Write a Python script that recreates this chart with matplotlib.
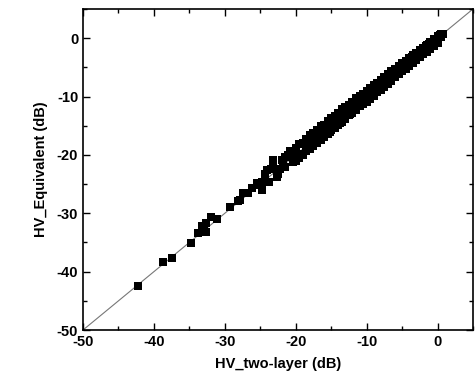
import matplotlib.pyplot as plt
from matplotlib.ticker import MultipleLocator

# HV two-layer vs. HV equivalent (dB)
hv_two_layer = [
    -42.2, -38.7, -37.4, -34.8, -33.8, -33.2, -33.0, -32.6, -32.7, -31.9, -31.1, -29.3, -28.1,
    -27.9, -27.4, -26.2, -24.8, -24.8, -24.4, -23.2, -22.5, -23.7, -22.7, -21.1, -20.4, -19.9,
    -19.0, -17.8, -18.0, -16.4, -16.2, -23.2, -20.8, -21.8, -21.5, -19.5, -18.5,
    -25.5, -24.0, -23.5, -22.0, -21.5, -26.8, -25.0, -22.2, -20.2, -20.6,
    -17.5, -17.0, -16.8, -15.9, -15.5, -15.2, -14.8, -14.5, -14.0, -13.8, -13.3, -13.0,
    -12.7, -12.3, -12.0, -11.7, -11.3, -11.0, -10.7, -10.4, -15.0, -13.5, -12.5, -11.5,
    -10.5, -16.5, -14.2, -16.1, -14.7, -12.4,
    -20.0, -19.5, -19.0, -18.5, -18.0, -17.5, -17.0, -16.5, -16.0, -15.5,
    -15.0, -14.5, -14.0, -13.5, -13.0, -12.5, -12.0, -11.5, -11.0, -10.5,
    -20.0, -19.5, -19.0, -18.5, -18.0, -17.5, -17.0, -16.5, -16.0, -15.5,
    -15.0, -14.5, -14.0, -13.5, -13.0, -12.5, -12.0, -11.5, -11.0, -10.5,
    -10.0, -9.6, -9.2, -8.8, -8.4, -8.0, -7.6, -7.2, -6.8, -6.4, -6.0, -5.6, -5.2, -4.8,
    -4.4, -4.0, -3.6, -3.2, -2.8, -2.4, -2.0, -1.6, -1.2, -0.8, -0.4, 0.0, 0.4, 0.8,
    -10.0, -9.6, -9.2, -8.8, -8.4, -8.0, -7.6, -7.2, -6.8, -6.4, -6.0, -5.6, -5.2, -4.8,
    -4.4, -4.0, -3.6, -3.2, -2.8, -2.4, -2.0, -1.6, -1.2, -0.8, -0.4, 0.0, 0.4, 0.8,
    -10.0, -9.5, -9.0, -8.5, -8.0, -7.5, -7.0, -6.5, -6.0, -5.5, -5.0,
    -4.5, -4.0, -3.5, -3.0, -2.5, -2.0, -1.5, -1.0, -0.5, 0.0, 0.5,
    -10.0, -9.5, -9.0, -8.5, -8.0, -7.5, -7.0, -6.5, -6.0, -5.5, -5.0,
    -4.5, -4.0, -3.5, -3.0, -2.5, -2.0, -1.5, -1.0, -0.5, 0.0, 0.5,
]
hv_equivalent = [
    -42.4, -38.4, -37.7, -35.1, -33.4, -32.1, -32.8, -33.2, -31.7, -30.6, -30.9, -29.0, -27.9,
    -27.7, -26.6, -25.7, -26.0, -24.6, -23.2, -22.0, -23.2, -24.6, -23.7, -20.0, -21.2, -19.5,
    -18.0, -17.2, -18.9, -15.2, -16.6, -20.9, -19.3, -21.0, -22.0, -19.9, -18.3,
    -24.8, -22.6, -22.5, -20.8, -20.3, -26.5, -25.2, -22.4, -19.3, -20.0,
    -17.9, -16.2, -17.3, -15.6, -14.6, -16.0, -14.2, -15.3, -13.4, -14.6, -12.9, -13.8,
    -12.2, -13.0, -11.5, -12.3, -10.9, -11.6, -10.2, -11.0, -15.0, -13.6, -12.6, -11.4,
    -10.6, -15.9, -14.0, -15.8, -13.8, -12.0,
    -18.8, -18.2, -17.9, -17.3, -16.6, -16.3, -15.8, -15.1, -14.8, -14.2,
    -13.7, -13.3, -12.8, -12.2, -11.8, -11.4, -10.9, -10.3, -9.9, -9.5,
    -21.0, -20.6, -20.1, -19.4, -19.0, -18.5, -17.9, -17.4, -16.9, -16.4,
    -15.8, -15.4, -14.9, -14.3, -13.8, -13.2, -12.8, -12.3, -11.7, -11.2,
    -9.4, -9.0, -8.7, -8.3, -7.9, -7.5, -7.2, -6.8, -6.4, -6.0, -5.7, -5.3, -4.9, -4.5,
    -4.1, -3.7, -3.3, -2.9, -2.6, -2.2, -1.8, -1.4, -1.0, -0.7, -0.3, 0.1, 0.5, 0.8,
    -10.6, -10.1, -9.7, -9.3, -8.8, -8.4, -8.0, -7.6, -7.2, -6.7, -6.3, -5.9, -5.5, -5.1,
    -4.7, -4.2, -3.8, -3.4, -3.0, -2.6, -2.2, -1.8, -1.4, -0.9, -0.5, -0.1, 0.3, 0.7,
    -9.1, -8.6, -8.1, -7.6, -7.2, -6.7, -6.2, -5.7, -5.3, -4.8, -4.3,
    -3.9, -3.4, -2.9, -2.5, -2.0, -1.6, -1.1, -0.7, -0.2, 0.3, 0.8,
    -10.9, -10.4, -9.9, -9.3, -8.8, -8.3, -7.8, -7.3, -6.7, -6.2, -5.7,
    -5.2, -4.7, -4.2, -3.7, -3.2, -2.7, -2.3, -1.8, -1.3, -0.8, 0.2,
]
diag = [-50, 5]

plt.rcParams['font.family'] = ['Liberation Sans', 'DejaVu Sans']
plt.rcParams['font.weight'] = 'bold'
plt.rcParams['axes.unicode_minus'] = False

fig = plt.figure(figsize=(4.76, 3.84), dpi=100)
ax = fig.add_axes([0.1744, 0.1406, 0.8193, 0.836])

ax.plot(diag, diag, color='#777777', linewidth=0.8, zorder=1)
ax.scatter(hv_two_layer, hv_equivalent, marker='s', s=28, color='black',
           linewidths=0, zorder=2)

ax.set_xlim(-50, 5)
ax.set_ylim(-50, 5)
ax.xaxis.set_major_locator(MultipleLocator(10))
ax.xaxis.set_minor_locator(MultipleLocator(5))
ax.yaxis.set_major_locator(MultipleLocator(10))
ax.yaxis.set_minor_locator(MultipleLocator(5))
ax.tick_params(which='both', direction='in', top=True, right=True, width=1,
               labelsize=10.5)
ax.tick_params(which='major', length=5)
ax.tick_params(which='minor', length=3)
for lab in ax.get_xticklabels() + ax.get_yticklabels():
    lab.set_fontweight('bold')
for sp in ax.spines.values():
    sp.set_linewidth(1.2)

ax.set_xlabel('HV_two-layer (dB)', fontsize=10.5, fontweight='bold', labelpad=6)
ax.set_ylabel('HV_Equivalent (dB)', fontsize=10.5, fontweight='bold', labelpad=6)

fig.savefig('out.png', dpi=100)
